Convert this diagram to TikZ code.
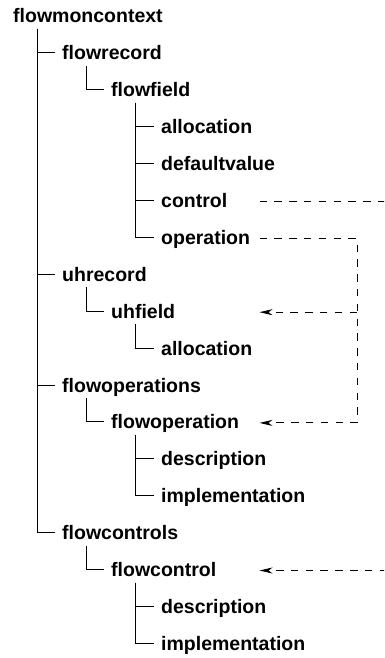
\documentclass[tikz,border=0pt]{standalone}
\usepackage{fontspec}
\setmainfont{Liberation Sans}
\usetikzlibrary{arrows.meta}
\begin{document}
\begin{tikzpicture}[x=1pt,y=-1pt,
  item/.style={anchor=base west, inner sep=0pt, font=\fontsize{19.5}{23}\selectfont\bfseries},
  branch/.style={line width=0.9pt},
  link/.style={line width=0.9pt, dash pattern=on 7.5pt off 7.3pt},
  tip/.style={-{Stealth[length=13pt,width=6pt,inset=4pt]}}]
\clip (0,0) rectangle (384,658);

% tree entries, one row each
\node[item] (root)   at (13,23)     {flowmoncontext};
\node[item] (rec)    at (62,59.9)   {flowrecord};
\node[item] (fld)    at (111,96.8)  {flowfield};
\node[item] (alloc1) at (161,133.7) {allocation};
\node[item] (dflt)   at (161,170.6) {defaultvalue};
\node[item] (ctl)    at (161,207.5) {control};
\node[item] (oper)   at (161,244.4) {operation};
\node[item] (uhrec)  at (62,281.3)  {uhrecord};
\node[item] (uhfld)  at (111,318.2) {uhfield};
\node[item] (alloc2) at (161,355.1) {allocation};
\node[item] (fops)   at (62,392)    {flowoperations};
\node[item] (fop)    at (111,428.9) {flowoperation};
\node[item] (desc1)  at (161,465.8) {description};
\node[item] (impl1)  at (161,502.7) {implementation};
\node[item] (fctls)  at (62,539.6)  {flowcontrols};
\node[item] (fctl)   at (111,576.5) {flowcontrol};
\node[item] (desc2)  at (161,613.4) {description};
\node[item] (impl2)  at (161,650.3) {implementation};

% parent-to-child branches
\foreach \p/\c in {root/rec, root/uhrec, root/fops, root/fctls,
                   rec/fld, fld/alloc1, fld/dflt, fld/ctl, fld/oper,
                   uhrec/uhfld, uhfld/alloc2,
                   fops/fop, fop/desc1, fop/impl1,
                   fctls/fctl, fctl/desc2, fctl/impl2}
  \draw[branch] ([shift={(24.5,6)}]\p.base west) |- ([shift={(-7,-7)}]\c.base west);

% reference links
\coordinate (lane) at (259.5,0);
\coordinate (bus)  at (357,0);
\coordinate (far)  at (420,0);
\coordinate (ctlE)  at ([yshift=6pt]ctl.base west);
\coordinate (operE) at ([yshift=6pt]oper.base west);
\coordinate (uhfE)  at ([yshift=6pt]uhfld.base west);
\coordinate (fopE)  at ([yshift=6pt]fop.base west);
\coordinate (fctlE) at ([yshift=6pt]fctl.base west);

\draw[link,tip] (ctlE -| lane) -- (ctlE -| far) |- (fctlE -| lane);
\draw[link,tip] (operE -| lane) -- (operE -| bus) |- (fopE -| lane);
\draw[link,tip] (uhfE -| bus) -- (uhfE -| lane);
\end{tikzpicture}
\end{document}
